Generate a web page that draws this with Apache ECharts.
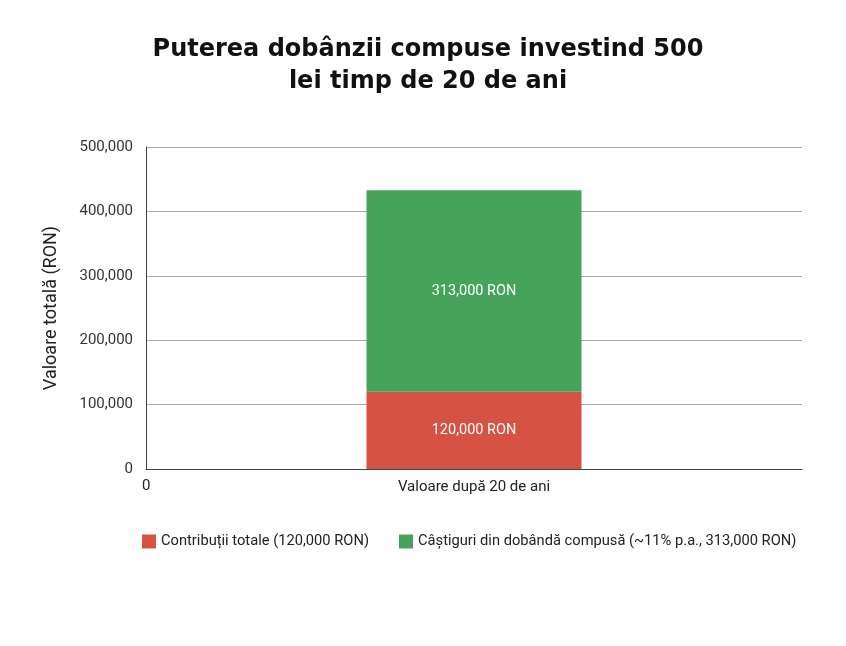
<!DOCTYPE html>
<html><head><meta charset="utf-8">
<script src="https://cdn.jsdelivr.net/npm/echarts@6/dist/echarts.min.js"></script>
<style>html,body{margin:0;padding:0;background:#fff}#c{width:846px;height:646px}</style>
</head><body><div id="c"></div>
<script>
const categories = ['Valoare după 20 de ani'];
const contributii = [120000];
const castiguri = [313000];
const seriesNames = ['Contribuții totale (120,000 RON)', 'Câștiguri din dobândă compusă (~11% p.a., 313,000 RON)'];
const barLabels = ['120,000 RON', '313,000 RON'];

const chart = echarts.init(document.getElementById('c'));
const fnt = 'Roboto';
chart.setOption({
  animation: false,
  backgroundColor: '#fff',
  title: {
    text: 'Puterea dobânzii compuse investind 500\nlei timp de 20 de ani',
    left: 423, top: 29, textAlign: 'center',
    textStyle: { fontFamily: 'DejaVu Sans', fontWeight: 700, fontSize: 24, color: '#111', lineHeight: 32 }
  },
  legend: {
    top: 529, left: 137,
    itemWidth: 14, itemHeight: 14, itemGap: 30,
    icon: 'rect',
    textStyle: { fontFamily: fnt, fontSize: 14.7, color: '#222' },
    data: seriesNames
  },
  grid: { left: 146, right: 44, top: 147, bottom: 177 },
  xAxis: {
    type: 'category', data: categories,
    axisLine: { lineStyle: { color: '#444', width: 1 } },
    axisTick: { show: false },
    axisLabel: { fontFamily: fnt, fontSize: 15, color: '#222', margin: 11 }
  },
  yAxis: {
    type: 'value', min: 0, max: 500000, interval: 100000,
    name: 'Valoare totală (RON)', nameLocation: 'middle', nameGap: 86,
    nameTextStyle: { fontFamily: fnt, fontSize: 18, color: '#222' },
    axisLine: { show: true, lineStyle: { color: '#444' } },
    axisTick: { show: false },
    axisLabel: { fontFamily: fnt, fontSize: 15, color: '#333', margin: 13,
      formatter: v => v.toLocaleString('en-US') },
    splitLine: { lineStyle: { color: '#aaa' } }
  },
  series: [
    { name: seriesNames[0], type: 'bar', stack: 't', data: contributii, barWidth: 215,
      itemStyle: { color: '#d65245' },
      label: { show: true, position: 'inside', formatter: barLabels[0], color: '#fff', fontFamily: fnt, fontSize: 14.5 } },
    { name: seriesNames[1], type: 'bar', stack: 't', data: castiguri, barWidth: 215,
      itemStyle: { color: '#46a35a' },
      label: { show: true, position: 'inside', formatter: barLabels[1], color: '#fff', fontFamily: fnt, fontSize: 14.5 } }
  ],
  graphic: [
    { type: 'text', left: 142, top: 479, style: { text: '0', fontFamily: fnt, fontSize: 15, fill: '#222' } }
  ]
});
</script></body></html>
